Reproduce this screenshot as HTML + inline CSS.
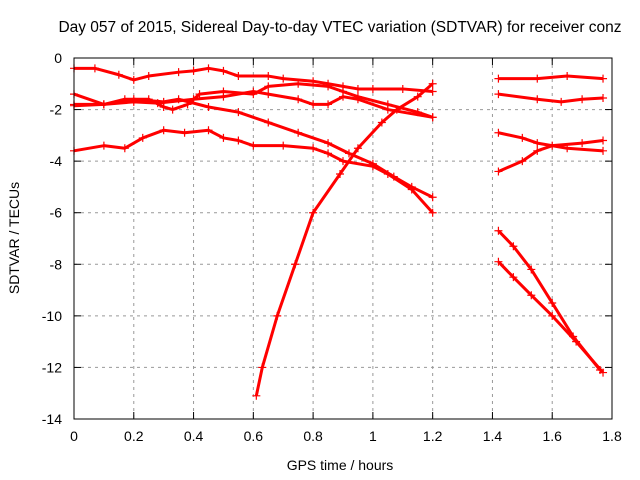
<!DOCTYPE html>
<html><head><meta charset="utf-8"><style>
body{margin:0;background:#fff}
svg{display:block;font-family:"Liberation Sans",sans-serif}
</style></head><body>
<svg id="c" width="640" height="480">
<text x="340" y="32" font-size="15.5" text-anchor="middle">Day 057 of 2015, Sidereal Day-to-day VTEC variation (SDTVAR) for receiver conz</text>
<text x="340" y="470" font-size="14" text-anchor="middle">GPS time / hours</text>
<text transform="translate(19,238) rotate(-90)" font-size="14" text-anchor="middle">SDTVAR / TECUs</text>
<g id="grid"></g><g id="ticks"></g><g id="marks"></g>
<rect x="74" y="58" width="538" height="361" fill="none" stroke="#000" stroke-width="1"/>
</svg>
<script>
const xTicks=[0,0.2,0.4,0.6,0.8,1,1.2,1.4,1.6,1.8];
const xTickLabels=["0","0.2","0.4","0.6","0.8","1","1.2","1.4","1.6","1.8"];
const yTicks=[0,-2,-4,-6,-8,-10,-12,-14];
const yTickLabels=["0","-2","-4","-6","-8","-10","-12","-14"];
const s1x=[0,0.07,0.15,0.2,0.25,0.35,0.4,0.45,0.5,0.55,0.65,0.7,0.8,0.85,0.9,0.95,1.0,1.1,1.2];
const s1y=[-0.4,-0.4,-0.65,-0.85,-0.7,-0.55,-0.5,-0.4,-0.5,-0.7,-0.7,-0.8,-0.9,-1.0,-1.1,-1.2,-1.2,-1.2,-1.3];
const s2x=[0,0.1,0.17,0.25,0.3,0.33,0.38,0.42,0.5,0.6,0.65,0.75,0.85,0.9,0.95,1.05,1.15,1.2];
const s2y=[-1.4,-1.8,-1.6,-1.6,-1.9,-2.0,-1.8,-1.4,-1.3,-1.4,-1.1,-1.0,-1.1,-1.3,-1.5,-1.8,-2.1,-2.3];
const s3x=[0,0.1,0.2,0.3,0.35,0.45,0.55,0.65,0.75,0.85,0.92,1.0,1.07,1.13,1.2];
const s3y=[-1.8,-1.8,-1.6,-1.7,-1.6,-1.9,-2.1,-2.5,-2.9,-3.3,-3.7,-4.1,-4.6,-5.0,-5.4];
const s4x=[0,0.1,0.2,0.28,0.4,0.5,0.6,0.65,0.75,0.8,0.85,0.9,0.95,1.05,1.2];
const s4y=[-1.85,-1.8,-1.7,-1.75,-1.6,-1.5,-1.3,-1.4,-1.6,-1.8,-1.8,-1.5,-1.6,-2.0,-2.3];
const s5x=[0,0.1,0.17,0.23,0.3,0.37,0.45,0.5,0.55,0.6,0.7,0.8,0.85,0.9,1.0,1.05,1.13,1.2];
const s5y=[-3.6,-3.4,-3.5,-3.1,-2.8,-2.9,-2.8,-3.1,-3.2,-3.4,-3.4,-3.5,-3.7,-4.0,-4.2,-4.5,-5.1,-6.0];
const s6x=[0.61,0.63,0.68,0.74,0.8,0.89,0.95,1.03,1.08,1.15,1.2];
const s6y=[-13.1,-12,-10,-8,-6,-4.5,-3.5,-2.5,-2,-1.5,-1.0];
const t1x=[1.42,1.55,1.65,1.77];const t1y=[-0.8,-0.8,-0.7,-0.8];
const t2x=[1.42,1.55,1.63,1.7,1.77];const t2y=[-1.4,-1.6,-1.7,-1.6,-1.55];
const t3x=[1.42,1.5,1.55,1.65,1.77];const t3y=[-2.9,-3.1,-3.3,-3.5,-3.6];
const t4x=[1.42,1.5,1.55,1.6,1.7,1.77];const t4y=[-4.4,-4.0,-3.6,-3.4,-3.3,-3.2];
const t5x=[1.42,1.47,1.53,1.6,1.67,1.76];const t5y=[-6.7,-7.3,-8.2,-9.5,-10.8,-12.1];
const t6x=[1.42,1.47,1.53,1.6,1.68,1.77];const t6y=[-7.9,-8.5,-9.2,-10,-11,-12.2];
const series=[[s1x,s1y],[s2x,s2y],[s3x,s3y],[s4x,s4y],[s5x,s5y],[s6x,s6y],[t1x,t1y],[t2x,t2y],[t3x,t3y],[t4x,t4y],[t5x,t5y],[t6x,t6y]];
const X=v=>74+v/1.8*538, Y=v=>58-v/14*361;
const NS="http://www.w3.org/2000/svg";
function mk(t,a,p){const e=document.createElementNS(NS,t);for(const k in a)e.setAttribute(k,a[k]);p.appendChild(e);return e;}
const grid=document.getElementById('grid'),ticks=document.getElementById('ticks'),marks=document.getElementById('marks');
xTicks.forEach((v,i)=>{const x=X(v);
 if(i>0&&i<xTicks.length-1){const g=mk('line',{x1:x,x2:x,y1:58,y2:419,stroke:'#999','stroke-dasharray':'3,4'},grid);
 
 }
 mk('line',{x1:x,x2:x,y1:419,y2:412,stroke:'#000'},ticks);mk('line',{x1:x,x2:x,y1:58,y2:65,stroke:'#000'},ticks);
 const t=mk('text',{x:x,y:441,'font-size':14,'text-anchor':'middle'},ticks);t.textContent=xTickLabels[i];
 
 });
yTicks.forEach((v,i)=>{const y=Y(v);
 if(i>0&&i<yTicks.length-1){const g=mk('line',{x1:74,x2:612,y1:y,y2:y,stroke:'#999','stroke-dasharray':'3,4'},grid);
 
 }
 mk('line',{x1:74,x2:81,y1:y,y2:y,stroke:'#000'},ticks);mk('line',{x1:612,x2:605,y1:y,y2:y,stroke:'#000'},ticks);
 const t=mk('text',{x:62,y:y+5,'font-size':14,'text-anchor':'end'},ticks);t.textContent=yTickLabels[i];
 
 });
series.forEach((s,k)=>{const g=mk('g',{},marks);
 
 
 const pts=s[0].map((x,i)=>X(x)+','+Y(s[1][i])).join(' ');
 mk('polyline',{points:pts,fill:'none',stroke:'#f00','stroke-width':3,'stroke-linejoin':'round'},g);
 s[0].forEach((x,i)=>{const px=X(x),py=Y(s[1][i]);
  mk('path',{d:`M${px-4},${py}h8M${px},${py-4}v8`,stroke:'#f00','stroke-width':1.2},g);});});
</script>
</body></html>
